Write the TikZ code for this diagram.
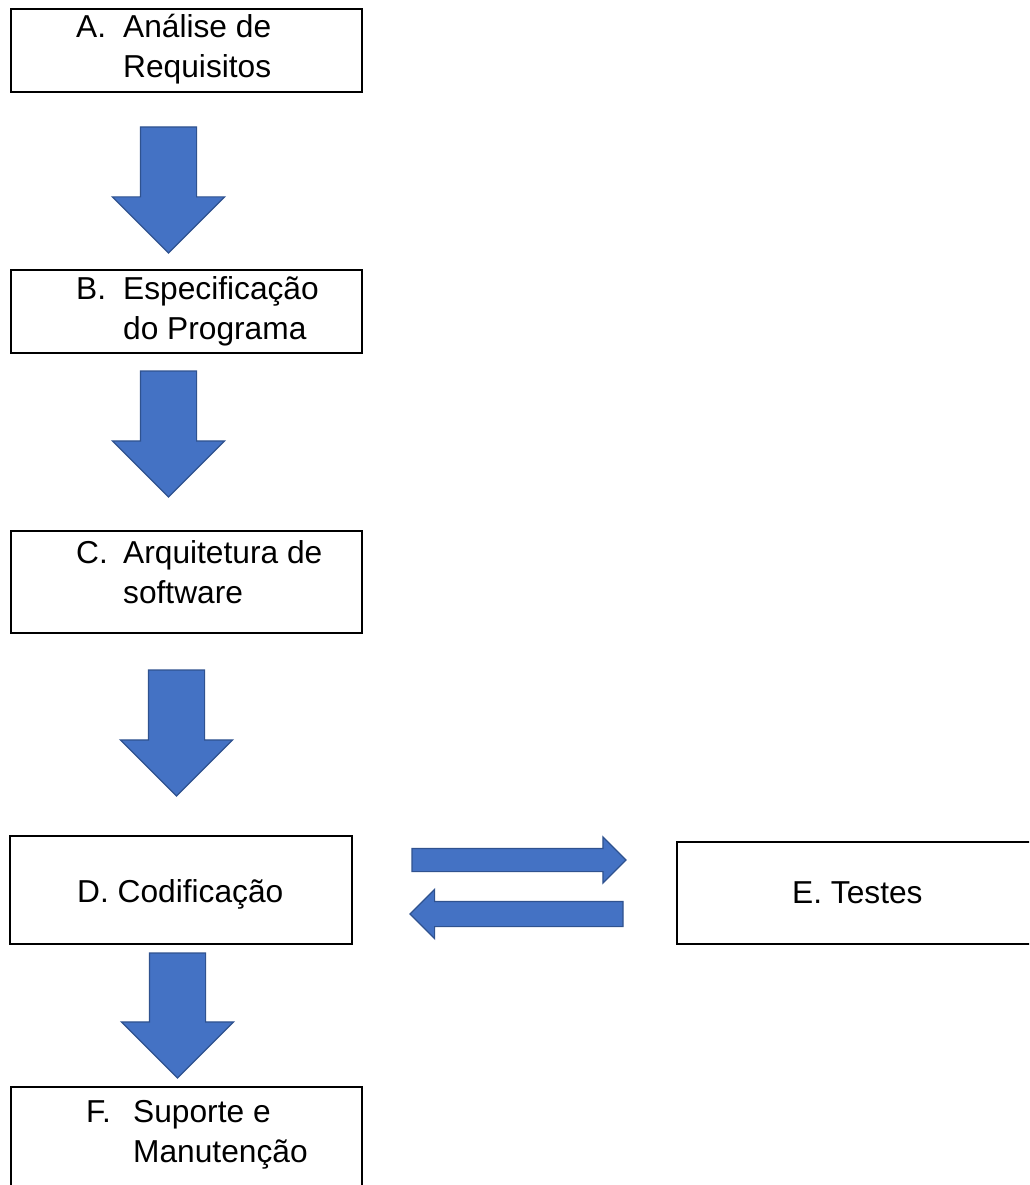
\documentclass[tikz,border=0pt]{standalone}
\usepackage{fontspec}
\setmainfont{Liberation Sans}
\usetikzlibrary{shapes.arrows}
\definecolor{seta}{HTML}{4472C4}
\definecolor{setaborda}{HTML}{2F528F}
\tikzset{
  caixa/.style={draw, line width=1.8pt, anchor=north west, inner sep=0pt, outer sep=0pt},
  rotulo/.style={font=\fontsize{31.7}{40}\selectfont, inner sep=0pt, anchor=base west},
  bloco/.style={single arrow, fill=seta, draw=setaborda, line width=1.2pt, anchor=tail,
    single arrow tip angle=90, inner xsep=0pt, outer sep=0pt}
}
\newcommand{\passo}[3]{\begin{tabular}[t]{@{}p{47pt}@{}l@{}}#1&#2\\&#3\end{tabular}}

\begin{document}
\begin{tikzpicture}[x=1pt,y=-1pt]
\useasboundingbox (0,0) rectangle (1029,1185);
\clip (0,0) rectangle (1029,1185);
% caixas
\node[caixa, minimum width=351pt, minimum height=83pt] (caixaA) at (11,9) {};
\node[caixa, minimum width=351pt, minimum height=83pt] (caixaB) at (11,270) {};
\node[caixa, minimum width=351pt, minimum height=102pt] (caixaC) at (11,531) {};
\node[caixa, minimum width=342pt, minimum height=108pt] (caixaD) at (10,836) {};
\node[caixa, minimum width=362pt, minimum height=102pt] (caixaE) at (677,842) {};
\node[caixa, minimum width=351pt, minimum height=112pt] (caixaF) at (11,1087) {};
% textos
\node[rotulo] (txtA) at (76,38) {\passo{A.}{Análise de}{Requisitos}};
\node[rotulo] (txtB) at (76,299) {\passo{B.}{Especificação}{do Programa}};
\node[rotulo] (txtC) at (76,563) {\passo{C.}{Arquitetura de}{software}};
\node[rotulo] (txtD) at (77,902) {D. Codificação};
\node[rotulo] (txtE) at (792,903) {E. Testes};
\node[rotulo] (txtF) at (86,1122) {\passo{F.}{Suporte e}{Manutenção}};
% setas
\node[bloco, rotate=-90, minimum height=126pt, minimum width=111pt, inner ysep=27.5pt,
  single arrow head extend=28pt] (setaAB) at (168.5,127) {};
\node[bloco, rotate=-90, minimum height=126pt, minimum width=111pt, inner ysep=27.5pt,
  single arrow head extend=28pt] (setaBC) at (168.5,371) {};
\node[bloco, rotate=-90, minimum height=126pt, minimum width=111pt, inner ysep=27.5pt,
  single arrow head extend=28pt] (setaCD) at (176.5,670) {};
\node[bloco, rotate=-90, minimum height=125pt, minimum width=111pt, inner ysep=27.5pt,
  single arrow head extend=28pt] (setaDF) at (177.5,953) {};
\node[bloco, minimum height=214pt, minimum width=45pt, inner ysep=11pt,
  single arrow head extend=11.5pt] (setaDE) at (412,860) {};
\node[bloco, rotate=180, minimum height=213pt, minimum width=48pt, inner ysep=12pt,
  single arrow head extend=12pt] (setaED) at (623,914) {};
\end{tikzpicture}
\end{document}
